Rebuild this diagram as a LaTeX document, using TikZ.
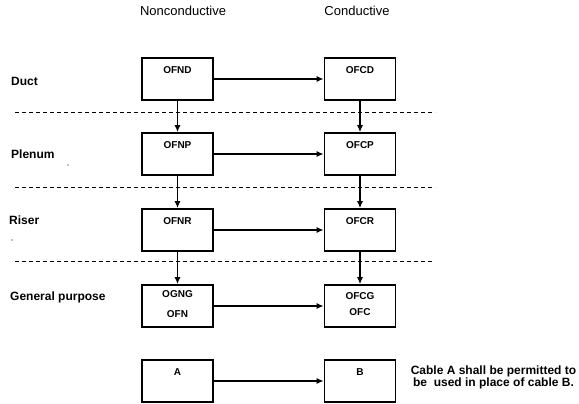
\documentclass[tikz,border=0pt]{standalone}
\usepackage{fontspec}
\setmainfont{Liberation Sans}
\usetikzlibrary{arrows.meta}
\begin{document}
\begin{tikzpicture}[x=1pt,y=-1pt,
  cablebox/.style={draw,line width=1.6pt,minimum width=71pt,minimum height=42pt,inner sep=0pt},
  boxlbl/.style={font=\bfseries\fontsize{10}{11}\selectfont,align=center,anchor=north,inner sep=0pt},
  rowlbl/.style={font=\bfseries\fontsize{12}{14}\selectfont,anchor=west,inner sep=0pt},
  collbl/.style={font=\fontsize{13}{15}\selectfont,inner sep=0pt},
  flow/.style={line width=1.4pt,-{Latex[length=7pt,width=6pt]}},
  divider/.style={line width=0.8pt,dash pattern=on 4pt off 3pt}]
\useasboundingbox (0,0) rectangle (579,404);

% column headings
\node[collbl] (hnc) at (183,11) {Nonconductive};
\node[collbl] (hc) at (357,11) {Conductive};

% row headings
\node[rowlbl] (rduct) at (11,81) {Duct};
\node[rowlbl] (rplen) at (11,154) {Plenum};
\node[rowlbl] (rris) at (9,220) {Riser};
\node[rowlbl] (rgen) at (10,297) {General purpose};

% boxes
\node[cablebox] (ofnd) at (177.5,79) {};
\node[cablebox] (ofcd) at (360,79) {};
\node[cablebox] (ofnp) at (177.5,154) {};
\node[cablebox] (ofcp) at (360,154) {};
\node[cablebox] (ofnr) at (177.5,230) {};
\node[cablebox] (ofcr) at (360,230) {};
\node[cablebox] (ogng) at (177.5,306) {};
\node[cablebox] (ofcg) at (360,306) {};
\node[cablebox] (ca) at (177.5,381) {};
\node[cablebox] (cb) at (360,381) {};

% box texts
\node[boxlbl] (tofnd) at ([yshift=-9.5pt]ofnd.north) {OFND};
\node[boxlbl] (tofcd) at ([yshift=-9.5pt]ofcd.north) {OFCD};
\node[boxlbl] (tofnp) at ([yshift=-9.5pt]ofnp.north) {OFNP};
\node[boxlbl] (tofcp) at ([yshift=-9.5pt]ofcp.north) {OFCP};
\node[boxlbl] (tofnr) at ([yshift=-9.5pt]ofnr.north) {OFNR};
\node[boxlbl] (tofcr) at ([yshift=-9.5pt]ofcr.north) {OFCR};
\node[boxlbl,font=\bfseries\fontsize{10}{20}\selectfont] (togng) at ([yshift=-6.5pt]ogng.north) {OGNG\\OFN};
\node[boxlbl,font=\bfseries\fontsize{10}{16}\selectfont] (tofcg) at ([yshift=-8.5pt]ofcg.north) {OFCG\\OFC};
\node[boxlbl] (tca) at ([yshift=-9.5pt]ca.north) {A};
\node[boxlbl] (tcb) at ([yshift=-9.5pt]cb.north) {B};

% note
\node[font=\bfseries\fontsize{12}{11}\selectfont,align=center,inner sep=0pt] (note) at (493.5,377.5)
  {Cable A shall be permitted to\\be\ \ used in place of cable B.};

% row dividers
\coordinate (d1l) at (15,112); \coordinate (d1r) at (435,112);
\coordinate (d2l) at (15,187); \coordinate (d2r) at (435,187);
\coordinate (d3l) at (15,261); \coordinate (d3r) at (432,261);
\draw[divider] (d1l) -- (d1r);
\draw[divider] (d2l) -- (d2r);
\draw[divider] (d3l) -- (d3r);

% horizontal connectors
\draw[flow] (ofnd) -- (ofcd);
\draw[flow] (ofnp) -- (ofcp);
\draw[flow] (ofnr) -- (ofcr);
\draw[flow] (ogng) -- (ofcg);
\draw[flow] (ca) -- (cb);

% vertical connectors
\draw[flow] (ofnd) -- (ofnp);
\draw[flow] (ofnp) -- (ofnr);
\draw[flow] (ofnr) -- (ogng);
\draw[flow] (ofcd) -- (ofcp);
\draw[flow] (ofcp) -- (ofcr);
\draw[flow] (ofcr) -- (ofcg);

% small specks
\fill[gray] (68,165) circle (0.8pt);
\fill[gray] (12,240) circle (0.8pt);
\end{tikzpicture}
\end{document}
